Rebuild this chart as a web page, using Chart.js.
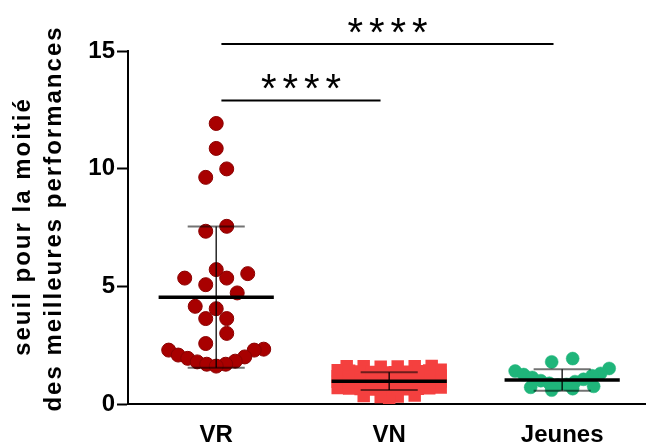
<!DOCTYPE html>
<html>
<head>
<meta charset="utf-8">
<script src="https://cdn.jsdelivr.net/npm/chart.js@4.4.0/dist/chart.umd.min.js"></script>
<style>
  body { margin: 0; background: #fff; }
  canvas { display: block; }
</style>
</head>
<body>
<canvas id="chart" width="654" height="443"></canvas>
<script>
'use strict';

//DATA
var categories = ['VR', 'VN', 'Jeunes'];
var vrValues = [11.92, 10.86, 9.99, 9.63, 7.55, 7.34,
   5.71, 5.54, 5.35, 5.35, 5.07, 4.72, 4.15, 4.05, 3.63, 3.63, 3.0, 2.57,
   2.33, 2.29, 2.29, 2.08, 2.0, 1.94, 1.82, 1.79, 1.69, 1.69, 1.61];
var vnValues = [1.62, 1.6, 1.58, 1.6, 1.61, 1.59,
   1.46, 1.44, 1.42, 1.41, 1.39, 1.38, 1.37, 1.36, 1.35, 1.34,
   1.2, 1.18, 1.16, 1.15, 1.14, 1.13, 1.12, 1.1, 1.08, 1.06,
   0.96, 0.94, 0.92, 0.91, 0.9, 0.89, 0.88, 0.86, 0.84, 0.82,
   0.7, 0.68, 0.67, 0.66, 0.65, 0.64, 0.63, 0.62, 0.6, 0.58,
   0.36, 0.34, 0.32, 0.3,
   0.1];
var jeunesValues = [1.93, 1.79, 1.51, 1.40, 1.30, 1.25, 1.20, 1.13, 1.05,
   0.99, 0.95, 0.88, 0.83, 0.81, 0.75, 0.71, 0.65, 0.59];
var groupMeans = [4.54, 0.97, 1.02];
var groupSD = [3.0, 0.375, 0.455];
var yTicks = [0, 5, 10, 15];
var sigPairs = [[0, 1], [0, 2]];
var sigHeights = [12.9, 15.3];
var sigLabels = ['****', '****'];
var yTitle = ['seuil pour la moitié', 'des meilleures performances'];

var FONT = "'Liberation Sans', Arial, sans-serif";
var groups = [vrValues, vnValues, jeunesValues];

//spread the points of a column : values are put in bins of height binH,
//points of a bin are side by side, lowest in the middle
function spread(values, binH, maxW, maxStep, pxX) {
   var bins = {};
   values.forEach(function (v, i) {
      var b = Math.floor(v / binH + 1e-9);
      (bins[b] = bins[b] || []).push(i);
   });
   var out = new Array(values.length);
   Object.keys(bins).forEach(function (k) {
      var idx = bins[k].sort(function (a, b) { return values[a] - values[b]; });
      var n = idx.length;
      var step = n > 1 ? Math.min(maxStep, maxW / (n - 1)) : 0;
      var slots = [];
      for (var j = 0; j < n; j++) slots.push((j - (n - 1) / 2) * step);
      slots.sort(function (a, b) { return (Math.abs(a) - Math.abs(b)) || (a - b); });
      idx.forEach(function (i, j) { out[i] = slots[j] / pxX; });
   });
   return out;
}

function points(g, offsets) {
   return groups[g].map(function (v, i) {
      return {x: g + (offsets ? offsets[i] : 0), y: v};
   });
}

//PLUGINS
var meanSdPlugin = {
   id: 'meanSd',
   afterDatasetsDraw: function (chart) {
      var ctx = chart.ctx, xs = chart.scales.x, ys = chart.scales.y;
      var unit = xs.getPixelForValue(1) - xs.getPixelForValue(0);
      ctx.save();
      groupMeans.forEach(function (m, g) {
         var cx = xs.getPixelForValue(g);
         var top = ys.getPixelForValue(m + groupSD[g]);
         var bot = ys.getPixelForValue(m - groupSD[g]);
         var cap = unit * 0.165;
         ctx.strokeStyle = 'rgba(0,0,0,0.85)';
         ctx.lineWidth = 1.5;
         ctx.beginPath();
         ctx.moveTo(cx, top); ctx.lineTo(cx, bot);
         ctx.stroke();
         ctx.strokeStyle = 'rgba(0,0,0,0.55)';
         ctx.lineWidth = 2;
         ctx.beginPath();
         ctx.moveTo(cx - cap, top); ctx.lineTo(cx + cap, top);
         ctx.moveTo(cx - cap, bot); ctx.lineTo(cx + cap, bot);
         ctx.stroke();
         var half = unit * 0.333;
         var my = ys.getPixelForValue(m);
         ctx.strokeStyle = '#000';
         ctx.lineWidth = 3.5;
         ctx.beginPath();
         ctx.moveTo(cx - half, my); ctx.lineTo(cx + half, my);
         ctx.stroke();
      });
      ctx.restore();
   },
   afterDraw: function (chart) {
      var ctx = chart.ctx, xs = chart.scales.x, ys = chart.scales.y;
      ctx.save();
      //significance bars
      sigPairs.forEach(function (pair, k) {
         var x1 = xs.getPixelForValue(pair[0] + 0.03);
         var x2 = xs.getPixelForValue(pair[1] - 0.05);
         var y = ys.getPixelForValue(sigHeights[k]);
         ctx.strokeStyle = '#000';
         ctx.lineWidth = 2;
         ctx.beginPath();
         ctx.moveTo(x1, y); ctx.lineTo(x2, y);
         ctx.stroke();
         var label = sigLabels[k];
         var step = 21.5;
         var cx = (x1 + x2) / 2;
         ctx.fillStyle = '#000';
         ctx.font = '40px ' + FONT;
         ctx.textAlign = 'center';
         ctx.textBaseline = 'middle';
         for (var i = 0; i < label.length; i++) {
            ctx.fillText(label[i], cx + (i - (label.length - 1) / 2) * step, y - 9);
         }
      });
      //y title
      var cy = (chart.chartArea.top + chart.chartArea.bottom) / 2;
      ctx.translate(0, cy);
      ctx.rotate(-Math.PI / 2);
      ctx.fillStyle = '#000';
      ctx.font = 'bold 24px ' + FONT;
      ctx.textAlign = 'center';
      ctx.textBaseline = 'middle';
      try { ctx.letterSpacing = '2px'; } catch (e) {}
      ctx.fillText(yTitle[0], 1, 23);
      ctx.fillText(yTitle[1], 9, 54);
      ctx.restore();
   }
};

//CHART
var config = {
   type: 'scatter',
   data: {
      datasets: [{
         label: categories[0],
         data: points(0),
         pointStyle: 'circle',
         pointRadius: 7,
         backgroundColor: '#A80000',
         borderColor: '#8A0000',
         borderWidth: 1
      }, {
         label: categories[1],
         data: points(1),
         pointStyle: 'rect',
         pointRadius: 8.8,
         backgroundColor: '#F4403F',
         borderColor: '#F4403F',
         borderWidth: 0
      }, {
         label: categories[2],
         data: points(2),
         pointStyle: 'circle',
         pointRadius: 6.5,
         backgroundColor: '#1FB57A',
         borderColor: '#1FB57A',
         borderWidth: 0.5
      }]
   },
   options: {
      responsive: false,
      animation: false,
      events: [],
      layout: { padding: { top: 51, left: 0, right: 0, bottom: 0 } },
      plugins: { legend: { display: false }, tooltip: { enabled: false } },
      scales: {
         x: {
            type: 'linear',
            min: -0.51,
            max: 2.48,
            afterBuildTicks: function (scale) {
               scale.ticks = categories.map(function (c, i) { return {value: i}; });
            },
            afterFit: function (scale) { scale.height = 39; },
            ticks: {
               callback: function (v) { return categories[v]; },
               font: { family: FONT, size: 24, weight: 'bold' },
               color: '#000',
               padding: 17
            },
            grid: { display: false, drawTicks: false },
            border: { color: '#000', width: 2 }
         },
         y: {
            min: 0,
            max: 15,
            afterBuildTicks: function (scale) {
               scale.ticks = yTicks.map(function (v) { return {value: v}; });
            },
            afterFit: function (scale) { scale.width = 128; },
            ticks: {
               font: { family: FONT, size: 24, weight: 'bold' },
               color: '#000',
               padding: 2
            },
            grid: { drawOnChartArea: false, drawTicks: true, tickLength: 11, tickWidth: 2, tickColor: '#000' },
            border: { color: '#000', width: 2 }
         }
      }
   },
   plugins: [meanSdPlugin]
};

var myChart = new Chart(document.getElementById('chart'), config);

//place the points side by side, using the real scale size
var pxX = myChart.scales.x.getPixelForValue(1) - myChart.scales.x.getPixelForValue(0);
myChart.data.datasets[0].data = points(0, spread(vrValues, 0.8, 95, 21, pxX));
myChart.data.datasets[1].data = points(1, spread(vnValues, 0.25, 103, 17, pxX));
myChart.data.datasets[2].data = points(2, spread(jeunesValues, 0.8, 94, 21, pxX));
myChart.update('none');
</script>
</body>
</html>
